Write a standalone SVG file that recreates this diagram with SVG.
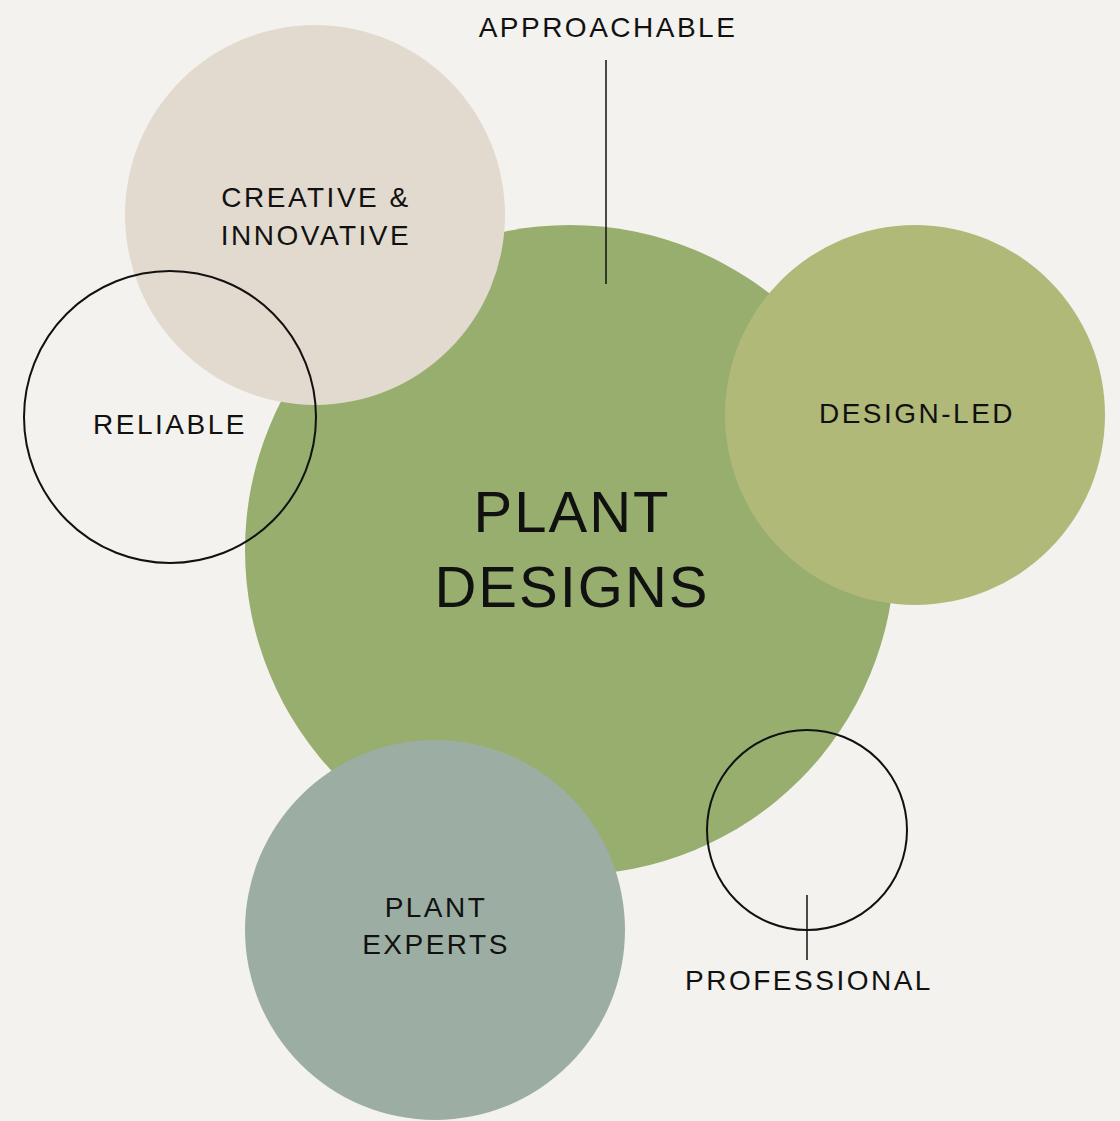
<svg xmlns="http://www.w3.org/2000/svg" width="1120" height="1121" viewBox="0 0 1120 1121">
<style>
.lbl{font-family:"Liberation Sans","Open Sans",sans-serif;font-size:28px;letter-spacing:2.5px;fill:#111;text-anchor:middle}
.big{font-family:"Liberation Sans","Open Sans",sans-serif;font-size:58px;letter-spacing:2px;fill:#111;text-anchor:middle}
.ring{fill:none;stroke:#111;stroke-width:2}
.conn{stroke:#111;stroke-width:1.5}
</style>
<rect width="1120" height="1121" fill="#f4f2ee"/>
<g id="plant-designs">
<circle cx="570" cy="550" r="325" fill="#97ae6f"/>
</g>
<g id="creative">
<circle cx="315" cy="215" r="190" fill="#e2dace"/>
<text class="lbl" x="316" y="207">CREATIVE &amp;</text>
<text class="lbl" x="316" y="245">INNOVATIVE</text>
</g>
<g id="design-led">
<circle cx="915" cy="415" r="190" fill="#b0b978"/>
<text class="lbl" x="917" y="423">DESIGN-LED</text>
</g>
<g id="plant-experts">
<circle cx="435" cy="930" r="190" fill="#9caea3"/>
<text class="lbl" x="436" y="917">PLANT</text>
<text class="lbl" x="436" y="954">EXPERTS</text>
</g>
<g id="plant-designs-label">
<text class="big" x="572" y="532">PLANT</text>
<text class="big" x="572" y="607">DESIGNS</text>
</g>
<g id="reliable">
<circle class="ring" cx="170" cy="417" r="146"/>
<text class="lbl" x="170" y="434">RELIABLE</text>
</g>
<g id="professional">
<circle class="ring" cx="807" cy="830" r="100"/>
<text class="lbl" x="809" y="990">PROFESSIONAL</text>
</g>
<g id="approachable">
<text class="lbl" x="608" y="37">APPROACHABLE</text>
</g>
<g id="connectors">
<line class="conn" x1="606" y1="60" x2="606" y2="284"/>
<line class="conn" x1="807" y1="895" x2="807" y2="960"/>
</g>
</svg>
